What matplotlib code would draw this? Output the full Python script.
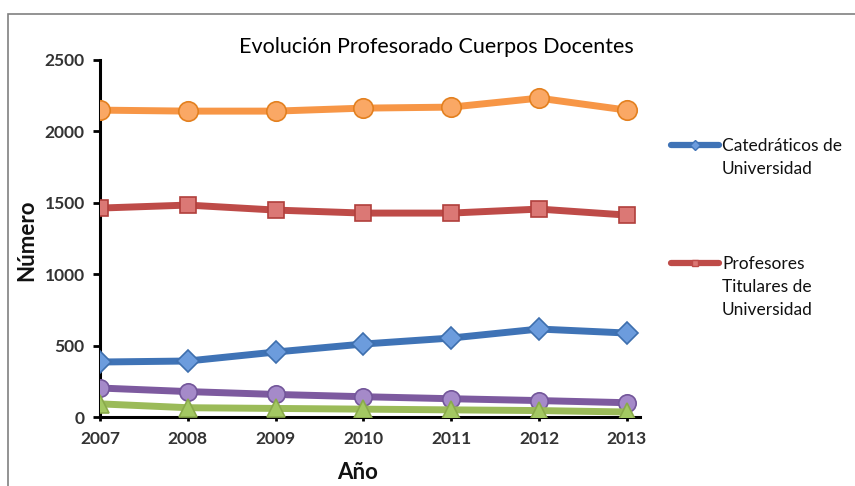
import matplotlib.pyplot as plt
from matplotlib.lines import Line2D
from matplotlib.patches import Rectangle

# --- data ---
years = [2007, 2008, 2009, 2010, 2011, 2012, 2013]
catedraticos = [385, 392, 455, 511, 553, 616, 588]
titulares = [1463, 1484, 1449, 1428, 1428, 1456, 1414]
serie_naranja = [2149, 2142, 2142, 2163, 2170, 2233, 2149]
serie_morada = [203, 178, 158, 142, 128, 115, 100]
serie_verde = [92, 65, 60, 55, 50, 45, 35]
yticks = [0, 500, 1000, 1500, 2000, 2500]

plt.rcParams['font.family'] = ['Lato', 'DejaVu Sans']

fig = plt.figure(figsize=(8.55, 4.86), dpi=100)
ax = fig.add_axes([100/855, 1 - 417/486, 540/855, 357/486])

# --- series: (values, line colour, marker, face, edge, size) ---
series = [
    (serie_naranja, '#F79646', 'o', '#FAA865', '#E3801F', 14),
    (titulares, '#BE4B48', 's', '#DB7875', '#B03F3C', 12),
    (catedraticos, '#3F73B6', 'D', '#6C9CDD', '#3E6FAE', 11),
    (serie_morada, '#7D5A9F', 'o', '#A58AC9', '#73569A', 12.5),
    (serie_verde, '#9BBB59', '^', '#A3C862', '#8AAA4B', 13),
]
for vals, col, mk, face, edge, ms in series:
    ax.plot(years, vals, color=col, lw=5, marker=mk, ms=ms,
            mfc=face, mec=edge, mew=1.2, solid_capstyle='round', zorder=3)

ax.set_xlim(2007, 2013.15)
ax.set_ylim(0, 2500)
ax.set_yticks(yticks)
ax.set_xticks(years)
ax.set_xticklabels([str(y) for y in years], fontsize=12.5, fontweight='bold', color='#333333')
ax.set_yticklabels([str(v) for v in yticks], fontsize=12.5, fontweight='bold', color='#333333')
ax.tick_params(axis='y', direction='out', length=5, width=2, pad=6)
ax.tick_params(axis='x', direction='out', length=3, width=2, pad=7)
for s in ['top', 'right']:
    ax.spines[s].set_visible(False)
ax.spines['left'].set_linewidth(2.2)
ax.spines['bottom'].set_linewidth(2.2)

# --- titles ---
fig.text(436/855, 1 - 47/486, 'Evolución Profesorado Cuerpos Docentes',
         ha='center', va='center', fontsize=15.5, color='black')
fig.text(27/855, 1 - 240/486, 'Número', rotation=90, ha='center', va='center',
         fontsize=16, fontweight='bold', color='#111111')
fig.text(358/855, 1 - 472/486, 'Año', ha='center', va='center',
         fontsize=16, fontweight='bold', color='#111111')

# --- legend (only two entries visible) ---
legend_items = [
    ('Catedráticos de\nUniversidad', '#3F73B6', 'D', '#6C9CDD', 145),
    ('Profesores\nTitulares de\nUniversidad', '#BE4B48', 's', '#DB7875', 263),
]
for label, col, mk, face, ypx in legend_items:
    yf = 1 - ypx/486
    fig.add_artist(Line2D([671/855, 719/855], [yf, yf], color=col, lw=4.5,
                          solid_capstyle='round', transform=fig.transFigure))
    fig.add_artist(Line2D([695/855], [yf], color=col, marker=mk, ms=5,
                          mfc=face, mec=col, transform=fig.transFigure))
    fig.text(722/855, yf + 7/486, label, ha='left', va='top', fontsize=12.5,
             linespacing=1.55, color='#111111')

# --- outer frame ---
fig.add_artist(Rectangle((8/855, -0.01), 1.0, 1 - 14/486 + 0.01, fill=False,
                         ec='#808080', lw=1.2, transform=fig.transFigure))

fig.savefig('out.png', dpi=100)
